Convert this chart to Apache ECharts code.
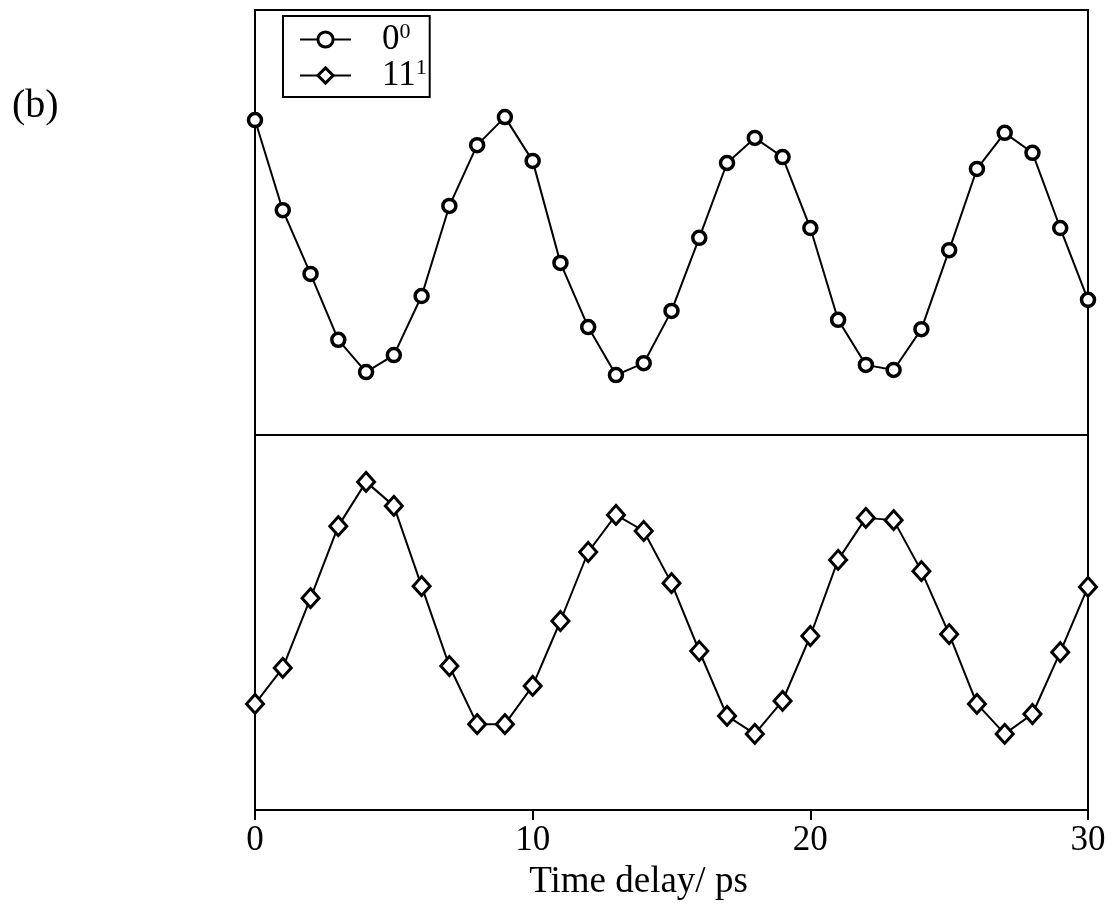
<!DOCTYPE html>
<html>
<head>
<meta charset="utf-8">
<title>Time delay</title>
<script src="https://cdn.jsdelivr.net/npm/echarts@6/dist/echarts.min.js"></script>
<style>
  html, body { margin: 0; padding: 0; background: #fff; }
  #chart { width: 1112px; height: 911px; }
</style>
</head>
<body>
<div id="chart"></div>
<script>
// Time delay (ps), one sample per picosecond
const timeDelay = [0,1,2,3,4,5,6,7,8,9,10,11,12,13,14,15,16,17,18,19,20,21,22,23,24,25,26,27,28,29,30];

// Signal of the 0^0 band (arbitrary units)
const band00 = [74.1,52.9,37.9,22.4,14.8,18.8,32.7,53.9,68.2,74.8,
                64.5,40.5,25.4,14.1,16.9,29.2,46.4,64.0,69.9,65.4,
                48.7,27.1,16.5,15.3,24.9,43.5,62.6,71.1,66.4,48.7,31.8];

// Signal of the 11^1 band (arbitrary units)
const band111 = [28.3,37.9,56.5,75.7,87.5,81.1,59.7,38.4,22.9,22.9,
                 33.1,50.4,68.8,78.7,74.4,60.5,42.4,25.1,20.3,29.1,
                 46.4,66.7,77.9,77.3,63.7,46.9,28.3,20.3,25.6,42.1,59.5];

const xTicks = [0, 10, 20, 30];
const seriesNames = ['0^0', '11^1'];

const FONT = 'Liberation Serif';

const chart = echarts.init(document.getElementById('chart'), null, { renderer: 'canvas' });

const pair = (xs, ys) => xs.map((x, i) => [x, ys[i]]);

const legendMarker = { color: '#fff', borderColor: '#000', borderWidth: 3 };

chart.setOption({
  animation: false,
  backgroundColor: '#fff',
  title: {
    text: '(b)',
    left: 12,
    top: 86,
    padding: 0,
    textStyle: { fontFamily: FONT, fontSize: 40, fontWeight: 'normal', color: '#000' }
  },
  legend: {
    left: 283,
    top: 16,
    orient: 'vertical',
    backgroundColor: '#fff',
    borderColor: '#000',
    borderWidth: 2,
    padding: [5, 3, 4, 16],
    itemWidth: 51,
    itemHeight: 19,
    itemGap: 0,
    selectedMode: false,
    data: seriesNames.map(n => ({ name: n, itemStyle: legendMarker })),
    itemStyle: legendMarker,
    lineStyle: { color: '#000', width: 2 },
    formatter: function (name) {
      const parts = name.split('^');
      return '{b|' + parts[0] + '}{s|' + parts[1] + '}';
    },
    textStyle: {
      color: '#000',
      fontFamily: FONT,
      padding: [0, 0, 0, 26],
      rich: {
        b: { fontFamily: FONT, fontSize: 35, lineHeight: 37, color: '#000' },
        s: { fontFamily: FONT, fontSize: 22, lineHeight: 24, color: '#000', verticalAlign: 'top' }
      }
    }
  },
  grid: [
    { left: 255, right: 24, top: 10, height: 425, show: true, borderColor: '#000', borderWidth: 2, backgroundColor: 'transparent' },
    { left: 255, right: 24, top: 435, bottom: 101, show: true, borderColor: '#000', borderWidth: 2, backgroundColor: 'transparent' }
  ],
  xAxis: [
    {
      gridIndex: 0, type: 'value', min: xTicks[0], max: xTicks[xTicks.length - 1], interval: 10,
      show: false
    },
    {
      gridIndex: 1, type: 'value', min: xTicks[0], max: xTicks[xTicks.length - 1], interval: 10,
      axisLine: { show: true, lineStyle: { color: '#000', width: 2 } },
      axisTick: { show: true, inside: false, length: 10, lineStyle: { color: '#000', width: 2 } },
      axisLabel: {
        color: '#000', fontFamily: FONT, fontSize: 35, margin: 13,
        formatter: v => (xTicks.indexOf(v) >= 0 ? String(v) : '')
      },
      splitLine: { show: false },
      name: 'Time delay/ ps',
      nameLocation: 'middle',
      nameGap: 54,
      nameTextStyle: { color: '#000', fontFamily: FONT, fontSize: 37, padding: [0, 66, 0, 0] }
    }
  ],
  yAxis: [
    { gridIndex: 0, type: 'value', min: 0, max: 100, show: false },
    { gridIndex: 1, type: 'value', min: 0, max: 100, show: false }
  ],
  series: [
    {
      name: seriesNames[0],
      type: 'line',
      xAxisIndex: 0, yAxisIndex: 0,
      data: pair(timeDelay, band00),
      clip: false,
      symbol: 'circle',
      symbolSize: 13,
      showAllSymbol: true,
      lineStyle: { color: '#000', width: 2 },
      itemStyle: { color: '#fff', borderColor: '#000', borderWidth: 3.5 },
      z: 5
    },
    {
      name: seriesNames[1],
      type: 'line',
      xAxisIndex: 1, yAxisIndex: 1,
      data: pair(timeDelay, band111),
      clip: false,
      symbol: 'diamond',
      symbolSize: [17, 19],
      showAllSymbol: true,
      lineStyle: { color: '#000', width: 2 },
      itemStyle: { color: '#fff', borderColor: '#000', borderWidth: 3 },
      z: 5
    }
  ]
});
</script>
</body>
</html>
